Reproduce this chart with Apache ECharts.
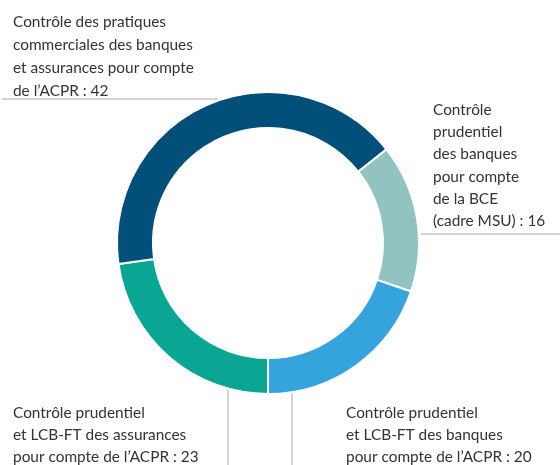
<!DOCTYPE html>
<html>
<head>
<meta charset="utf-8">
<script src="https://cdn.jsdelivr.net/npm/echarts@6/dist/echarts.min.js"></script>
<style>html,body{margin:0;padding:0;background:#fff;}#chart{width:560px;height:465px;}</style>
</head>
<body>
<div id="chart"></div>
<script>
// Data (clockwise from the bottom)
const categories = [
  "Contrôle prudentiel\net LCB-FT des assurances\npour compte de l’ACPR",
  "Contrôle des pratiques\ncommerciales des banques\net assurances pour compte\nde l’ACPR",
  "Contrôle\nprudentiel\ndes banques\npour compte\nde la BCE\n(cadre MSU)",
  "Contrôle prudentiel\net LCB-FT des banques\npour compte de l’ACPR"
];
const values = [23, 42, 16, 20];
const colors = ["#0ba693", "#02507a", "#93c3c1", "#35a4dc"];

// Label placement (style)
const labelPos = [
  { x: 13, y: 402, lh: 22, line: [[228, 390], [228, 430], [228, 470]] },
  { x: 13, y: 11, lh: 23, line: [[218, 99], [110, 99], [2, 99]] },
  { x: 433, y: 99, lh: 22.2, line: [[421, 234], [490, 234], [562, 234]] },
  { x: 346, y: 402, lh: 22, line: [[292, 390], [292, 430], [292, 470]] }
];

const chart = echarts.init(document.getElementById('chart'));
chart.setOption({
  animation: false,
  series: [{
    type: 'pie',
    center: [268, 243],
    radius: [115, 151],
    startAngle: 270,
    clockwise: true,
    avoidLabelOverlap: false,
    itemStyle: { borderColor: '#fff', borderWidth: 2 },
    label: {
      show: true,
      position: 'outside',
      formatter: '{b} : {c}',
      color: '#333333',
      fontFamily: 'Lato',
      fontSize: 15.4,
      lineHeight: 22,
      align: 'left'
    },
    labelLine: { show: true, smooth: false, lineStyle: { color: '#a9a9a9', width: 1 } },
    labelLayout: function (p) {
      const l = labelPos[p.dataIndex];
      return { x: l.x, y: l.y, align: 'left', verticalAlign: 'top', labelLinePoints: l.line };
    },
    emphasis: { disabled: true },
    data: categories.map((c, i) => ({
      name: c, value: values[i],
      itemStyle: { color: colors[i] },
      label: { lineHeight: labelPos[i].lh }
    }))
  }]
});
</script>
</body>
</html>
